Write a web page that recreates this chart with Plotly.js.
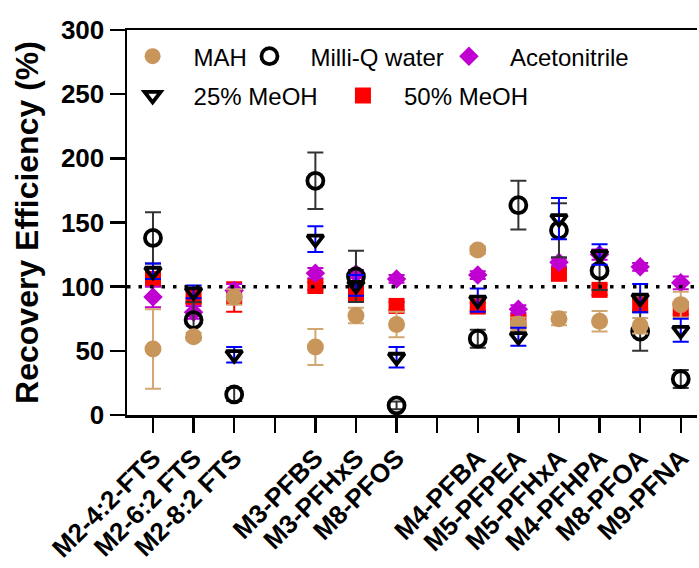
<!DOCTYPE html>
<html>
<head>
<meta charset="utf-8">
<script src="https://cdn.plot.ly/plotly-3.0.1.min.js"></script>
<style>html,body{margin:0;padding:0;background:#fff;}</style>
</head>
<body>
<div id="chart" style="width:699px;height:568px;"></div>
<script>
// ---- data ----
const ftsGroup = ['M2-4:2-FTS', 'M2-6:2 FTS', 'M2-8:2 FTS'];
const psGroup = ['M3-PFBS', 'M3-PFHxS', 'M8-PFOS'];
const caGroup = ['M4-PFBA', 'M5-PFPEA', 'M5-PFHxA', 'M4-PFHPA', 'M8-PFOA', 'M9-PFNA'];
const categories = ftsGroup.concat(psGroup, caGroup);

const mah = [51.5, 61, 92, 53, 77.5, 70.5, 128.5, 71, 75, 73, 69.5, 86];
const mahErr = [31, 3, 6, 14, 6, 10, 3, 5, 5, 8, 6, 10];

const milliQ = [138, 74, 16, 182.5, 108, 7.5, 59.5, 163.5, 144, 112.5, 65, 28];
const milliQErr = [20, 14, 5, 22, 20, 3, 7, 19, 21, 15, 15, 7];

const acn = [92, 80, 97, 110.5, 110, 106, 109, 82.5, 119, 125, 115.5, 103];
const acnErr = [8, 5, 5, 4, 3, 3, 3, 3, 3, 4, 3, 5];

const meoh25 = [112, 96, 47, 137, 101, 45, 89.5, 61, 153, 125, 91, 66];
const meoh25Err = [6, 5, 6, 10, 8, 8, 9, 7, 16, 8, 11, 9];

const meoh50 = [106, 92, 92, 100.5, 95, 85, 84.5, 73, 110, 97.5, 86, 82.5];
const meoh50Err = [5, 5, 11.5, 3, 4, 3, 3, 4, 4, 4, 4, 4];

const yTicks = [0, 50, 100, 150, 200, 250, 300];

// category order with blank spacers between groups
const categoryOrder = ftsGroup.concat([' '], psGroup, ['  '], caGroup);

const FONT = 'Liberation Sans, Arial, sans-serif';

function errBar(arr, color) {
  return {type: 'data', array: arr, visible: true, color: color, thickness: 2, width: 8};
}

const traces = [
  {
    name: '50% MeOH', x: categories, y: meoh50, type: 'scatter', mode: 'markers',
    marker: {symbol: 'square', size: 16, color: '#FF0000'},
    error_y: errBar(meoh50Err, '#FF0000'), legend: 'legend5'
  },
  {
    name: 'Acetonitrile', x: categories, y: acn, type: 'scatter', mode: 'markers',
    marker: {symbol: 'diamond', size: 15, color: '#C000D0'},
    error_y: errBar(acnErr, '#C000D0'), legend: 'legend3'
  },
  {
    name: 'Milli-Q water', x: categories, y: milliQ, type: 'scatter', mode: 'markers',
    marker: {symbol: 'circle-open', size: 16, color: '#000000', line: {width: 3.8, color: '#000000'}},
    error_y: errBar(milliQErr, '#333333'), legend: 'legend2'
  },
  {
    name: 'MAH', x: categories, y: mah, type: 'scatter', mode: 'markers',
    marker: {symbol: 'circle', size: 17, color: '#C8965A'},
    error_y: errBar(mahErr, '#D2A872'), legend: 'legend'
  },
  {
    name: '25% MeOH', x: categories, y: meoh25, type: 'scatter', mode: 'markers',
    marker: {symbol: 'triangle-down-open', size: 14, color: '#000000', line: {width: 3.8, color: '#000000'}},
    error_y: errBar(meoh25Err, '#0000FF'), legend: 'legend4'
  }
];

function leg(x, y) {
  return {
    x: x, y: y, xanchor: 'left', yanchor: 'middle', xref: 'paper', yref: 'paper',
    bgcolor: 'rgba(0,0,0,0)', borderwidth: 0, itemwidth: 72,
    font: {family: FONT, size: 24, color: '#000'}
  };
}

const layout = {
  width: 699, height: 568,
  margin: {l: 127, r: 2, t: 30, b: 153},
  paper_bgcolor: '#fff', plot_bgcolor: '#fff',
  showlegend: true,
  legend: leg(-0.027, 0.931),
  legend2: leg(0.178, 0.931),
  legend3: leg(0.528, 0.931),
  legend4: leg(-0.027, 0.829),
  legend5: leg(0.342, 0.829),
  xaxis: {
    type: 'category', categoryorder: 'array', categoryarray: categoryOrder,
    range: [-0.64, 13.4],
    showline: true, linecolor: '#000', linewidth: 2.5, mirror: true,
    ticks: 'outside', ticklen: 15, tickwidth: 2.5, tickcolor: '#000',
    tickangle: -45, showgrid: false, zeroline: false,
    tickfont: {family: FONT, size: 26, weight: 'bold', color: '#000'}
  },
  yaxis: {
    range: [0, 300], tickvals: yTicks,
    showline: true, linecolor: '#000', linewidth: 2.5,
    ticks: 'outside', ticklen: 15, tickwidth: 2.5, tickcolor: '#000',
    showgrid: false, zeroline: false,
    tickfont: {family: FONT, size: 26, weight: 'bold', color: '#000'},
    title: {text: 'Recovery Efficiency (%)', standoff: 13,
            font: {family: FONT, size: 32, weight: 'bold', color: '#000'}}
  },
  shapes: [{
    type: 'line', xref: 'paper', x0: 0, x1: 1, yref: 'y', y0: 100, y1: 100,
    line: {color: '#000', width: 3.5, dash: '3.5px,8px'}
  }]
};

Plotly.newPlot('chart', traces, layout, {displayModeBar: false, staticPlot: true});
</script>
</body>
</html>
